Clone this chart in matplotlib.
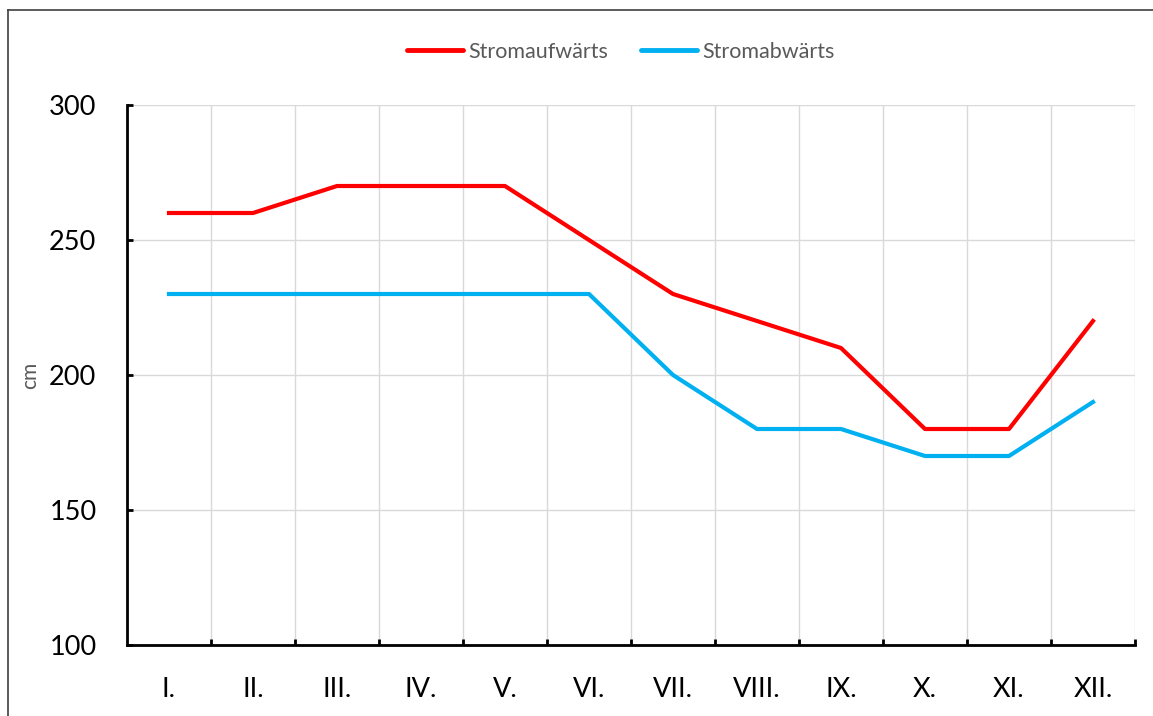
import matplotlib
matplotlib.use("Agg")
import matplotlib.pyplot as plt
from matplotlib.lines import Line2D

months = ["I.", "II.", "III.", "IV.", "V.", "VI.", "VII.", "VIII.", "IX.", "X.", "XI.", "XII."]
upstream = [260, 260, 270, 270, 270, 250, 230, 220, 210, 180, 180, 220]
downstream = [230, 230, 230, 230, 230, 230, 200, 180, 180, 170, 170, 190]
series_names = ["Stromaufwärts", "Stromabwärts"]
y_ticks = [100, 150, 200, 250, 300]

plt.rcParams['font.family'] = ['Lato', 'DejaVu Sans']

fig = plt.figure(figsize=(11.53, 7.16), dpi=100)
ax = fig.add_axes([127/1153, 1-645/716, (1135-127)/1153, (645-105)/716])

x = list(range(len(months)))
ax.plot(x, upstream, color='#FF0000', lw=3, label=series_names[0], solid_joinstyle='round')
ax.plot(x, downstream, color='#00B0F0', lw=3, label=series_names[1], solid_joinstyle='round')

ax.set_xlim(-0.5, len(months) - 0.5)
ax.set_ylim(100, 300)
ax.set_yticks(y_ticks)
ax.set_xticks(x)
ax.set_xticklabels(months)
ax.set_xticks([i + 0.5 for i in range(len(months))], minor=True)

ax.tick_params(axis='x', which='major', length=0, pad=23, labelsize=19.5, colors='#000000')
ax.tick_params(axis='x', which='minor', direction='in', length=4, width=2, color='black')
ax.tick_params(axis='y', which='major', direction='in', length=4, width=2, pad=22, labelsize=19.5, color='black')

ax.grid(axis='y', color='#D9D9D9', lw=1)
ax.grid(axis='x', which='minor', color='#D9D9D9', lw=1)
ax.set_axisbelow(True)

for s in ['top', 'right']:
    ax.spines[s].set_visible(False)
for s in ['left', 'bottom']:
    ax.spines[s].set_linewidth(2)
    ax.spines[s].set_color('black')

ax.set_ylabel('cm', color='#595959', fontsize=15, labelpad=2)
ax.yaxis.set_label_coords(-0.086, 0.5)

handles = [Line2D([0], [0], color='#FF0000', lw=3.5, solid_capstyle='round'),
           Line2D([0], [0], color='#00B0F0', lw=3.5, solid_capstyle='round')]
leg = fig.legend(handles, series_names, loc='center', bbox_to_anchor=(621/1153, 1-52/716),
                 ncol=2, frameon=False, fontsize=15.5, handlelength=2.6, handletextpad=0.25,
                 columnspacing=1.5)
for t in leg.get_texts():
    t.set_color('#595959')

# figure border (top and left visible)
fig.add_artist(Line2D([8/1153, 1], [1-10/716, 1-10/716], color='#404040', lw=1.2, transform=fig.transFigure))
fig.add_artist(Line2D([8/1153, 8/1153], [0, 1-10/716], color='#404040', lw=1.2, transform=fig.transFigure))

fig.savefig('out.png', dpi=100)
